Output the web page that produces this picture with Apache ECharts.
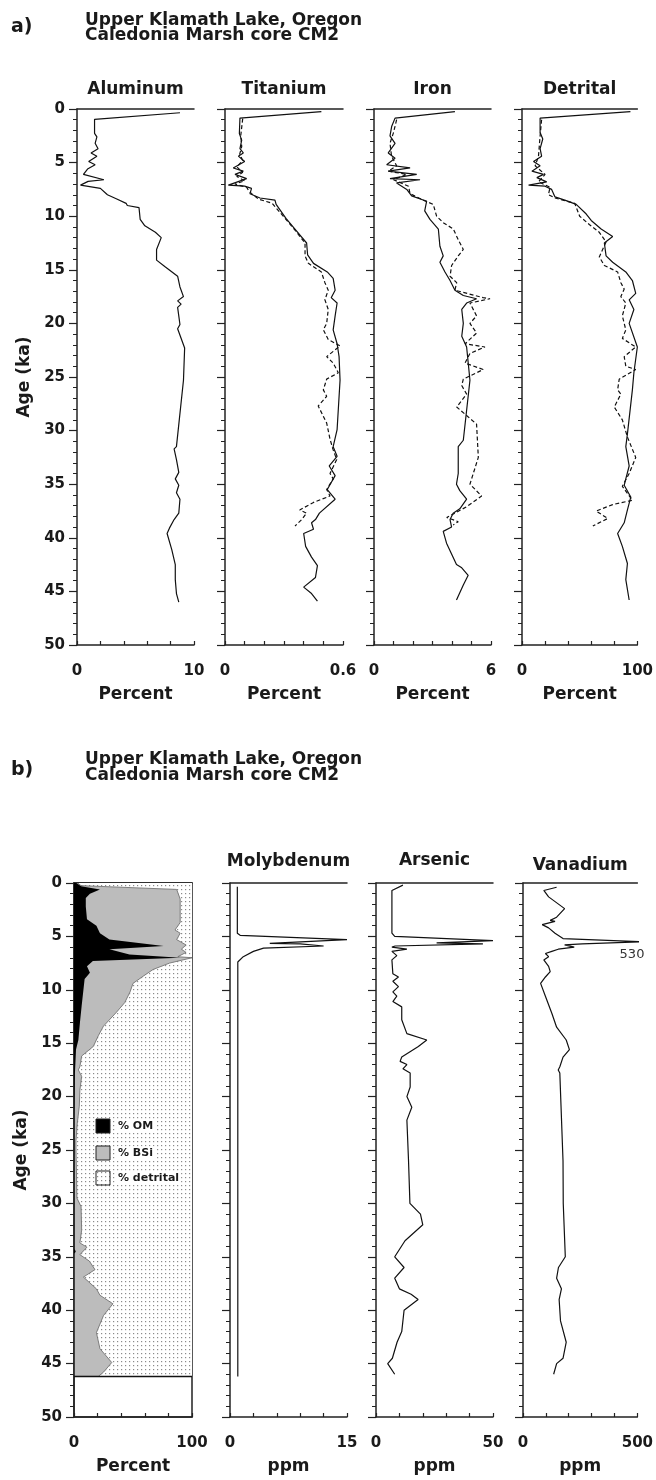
<!DOCTYPE html>
<html><head><meta charset="utf-8">
<script src="https://cdn.jsdelivr.net/npm/echarts@6/dist/echarts.min.js"></script>
<style>html,body{margin:0;padding:0;background:#fff}#c{width:656px;height:1480px}</style>
</head><body><div id="c"></div>
<script>
// ---------- DATA: [age (ka), value] ----------
const aluminum = [[0.35,8.8],[0.96,1.5],[2.27,1.5],[2.6,1.7],[3.2,1.55],[3.7,1.8],[4.1,1.2],[4.4,1.7],[4.9,1.0],[5.2,1.55],[5.6,0.9],[6.1,0.55],[6.6,2.3],[6.75,0.95],[7.1,0.3],[7.4,2.0],[8.0,2.6],[8.4,3.4],[8.8,4.2],[9.0,4.3],[9.2,5.3],[10.3,5.4],[10.9,5.8],[11.5,6.7],[12.0,7.2],[13.1,6.8],[14.1,6.8],[14.7,7.5],[15.6,8.6],[16.6,8.8],[17.5,9.1],[17.9,8.6],[18.2,8.9],[18.5,8.6],[20.1,8.8],[20.5,8.6],[22.3,9.2],[25.3,9.1],[31.5,8.5],[31.7,8.3],[32.7,8.5],[33.9,8.7],[34.5,8.4],[35.1,8.7],[35.8,8.5],[36.4,8.8],[37.7,8.7],[38.3,8.3],[39.1,7.9],[39.6,7.7],[41.1,8.1],[42.5,8.4],[43.9,8.4],[45.2,8.5],[46.0,8.7]];
const titaniumSolid = [[0.25,0.49],[0.85,0.076],[2.3,0.073],[2.9,0.085],[3.7,0.076],[4.1,0.093],[4.4,0.068],[4.9,0.10],[5.5,0.042],[5.8,0.093],[6.1,0.051],[6.5,0.11],[7.1,0.017],[7.2,0.10],[7.4,0.135],[7.9,0.127],[8.3,0.178],[8.5,0.254],[8.9,0.26],[10.2,0.31],[11.3,0.36],[12.5,0.415],[13.6,0.42],[14.4,0.45],[15.2,0.52],[15.8,0.55],[16.9,0.56],[17.6,0.54],[18.1,0.57],[19.3,0.56],[20.6,0.55],[21.9,0.57],[23.1,0.58],[25.3,0.585],[29.9,0.57],[31.5,0.55],[32.4,0.57],[33.3,0.53],[34.2,0.56],[35.5,0.52],[36.4,0.56],[37.7,0.48],[38.3,0.46],[38.6,0.44],[39.2,0.45],[39.6,0.40],[40.8,0.41],[41.8,0.44],[42.6,0.47],[43.7,0.46],[44.6,0.40],[45.2,0.44],[45.9,0.47]];
const titaniumDashed = [[0.9,0.09],[2.5,0.08],[3.5,0.085],[4.2,0.075],[4.8,0.09],[5.4,0.06],[5.9,0.09],[6.3,0.06],[6.7,0.10],[7.0,0.05],[7.3,0.11],[7.6,0.12],[7.9,0.135],[8.4,0.17],[8.8,0.24],[10.0,0.296],[11.3,0.356],[12.5,0.407],[13.7,0.407],[14.4,0.424],[15.2,0.49],[16.2,0.508],[16.9,0.525],[17.8,0.508],[18.7,0.525],[20.0,0.517],[20.6,0.5],[21.5,0.525],[22.1,0.585],[23.1,0.517],[23.7,0.55],[24.6,0.576],[25.2,0.517],[26.2,0.5],[26.8,0.517],[27.7,0.474],[29.3,0.517],[30.8,0.534],[31.8,0.55],[32.7,0.568],[34.0,0.534],[34.5,0.55],[35.5,0.517],[36.1,0.534],[36.7,0.45],[37.4,0.38],[37.7,0.415],[38.3,0.39],[38.9,0.356]];
const ironSolid = [[0.25,4.15],[0.85,1.08],[1.6,0.91],[2.5,0.82],[3.2,1.08],[4.1,0.73],[4.6,1.08],[5.2,0.65],[5.5,1.85],[5.8,0.73],[6.1,2.19],[6.5,0.82],[6.6,2.36],[6.9,1.16],[7.5,1.68],[8.1,1.93],[8.6,2.7],[9.5,2.6],[10.3,2.87],[11.2,3.3],[12.8,3.38],[13.7,3.55],[14.3,3.38],[15.2,3.64],[16.0,3.9],[16.9,4.15],[17.4,4.58],[17.7,5.26],[18.1,4.75],[18.7,4.5],[20.0,4.58],[21.2,4.5],[22.2,4.75],[25.3,4.92],[30.9,4.58],[31.5,4.32],[34.0,4.32],[35.0,4.23],[35.6,4.4],[36.4,4.75],[37.3,4.4],[37.7,4.06],[38.3,3.9],[39.0,3.98],[39.4,3.55],[40.5,3.72],[42.5,4.23],[42.8,4.5],[43.5,4.83],[44.4,4.58],[45.8,4.23]];
const ironDashed = [[1.0,1.16],[2.2,1.0],[3.2,0.82],[4.4,0.9],[5.3,1.16],[5.8,0.73],[6.1,1.68],[6.6,1.0],[7.2,1.77],[7.9,1.85],[8.5,2.53],[8.9,3.04],[10.0,3.21],[10.6,3.55],[11.2,4.07],[12.2,4.32],[13.1,4.58],[13.7,4.32],[14.6,3.98],[15.6,3.9],[16.2,4.24],[16.9,4.15],[17.6,5.6],[17.7,5.95],[18.1,4.92],[19.3,5.26],[20.0,4.92],[20.9,5.26],[21.9,4.67],[22.2,5.69],[22.8,4.92],[23.7,4.67],[24.3,5.6],[25.2,4.58],[25.8,4.5],[26.6,4.75],[27.8,4.24],[29.4,5.26],[32.5,5.35],[35.0,4.92],[36.1,5.52],[37.1,4.75],[37.7,4.15],[38.1,3.73],[38.5,4.32],[38.8,4.06]];
const detritalSolid = [[0.25,94],[0.85,15.7],[2.2,15.7],[2.8,18],[3.7,15.7],[4.4,17],[4.9,10],[5.3,15.7],[5.8,8.6],[6.1,18.6],[6.4,12.9],[6.8,21.4],[7.1,5.7],[7.2,20],[7.5,25.7],[8.2,28.6],[8.5,37.1],[8.9,47],[9.8,55.7],[10.4,60],[11.2,68.6],[11.9,78.6],[12.5,71.4],[13.7,72.9],[14.3,78.6],[15.2,90],[16.0,95.7],[17.2,98.6],[17.8,92.9],[18.7,97],[20.0,92.9],[22.2,100],[24.6,97],[26.2,95.7],[30.3,91.4],[31.5,90],[33.3,92.9],[34.5,90],[35.1,88.6],[36.2,94.3],[37.4,91.4],[38.6,88.6],[39.6,82.9],[40.8,87],[42.4,91.4],[43.9,90],[45.8,92.9]];
const detritalDashed = [[1.0,17],[2.5,15.7],[4.4,14.3],[5.3,11.4],[6.1,20],[6.8,14.3],[7.3,24.3],[8.0,22.9],[8.3,28.6],[8.8,45.7],[10.0,50],[10.8,58.6],[11.5,67],[12.4,72.9],[13.8,67],[14.6,71.4],[15.2,82.9],[16.2,85.7],[16.8,88.6],[17.5,85.7],[18.1,90],[19.3,87],[20.6,90],[21.4,87],[22.2,98.6],[23.1,88.6],[24.0,90],[24.3,98.6],[25.2,84.3],[26.2,82.9],[26.6,85.7],[27.8,80],[29.0,87],[30.6,91.4],[32.5,98.6],[34.0,92.9],[35.2,87],[36.5,95.7],[36.9,78.6],[37.5,64.3],[38.2,74.3],[38.9,61.4]];
// panel b: % OM and the OM+BSi boundary (remainder is % detrital)
const omPct = [[0,2],[0.3,6],[0.6,22],[1.0,13.5],[1.4,10],[2.2,10],[3.4,11],[4.0,19],[4.7,22],[5.3,30],[5.9,76],[6.2,30],[6.7,47],[7.0,90],[7.3,16],[7.8,11],[8.4,13.5],[9.0,9],[10.0,8],[11.5,6.5],[13.1,5],[14.7,3.7],[15.6,1.7],[17.8,0.8],[22,0.6],[34.3,0.6],[34.5,1.5],[34.7,0.5],[46.2,0.5]];
const omPlusBsi = [[0,3],[0.25,6],[0.6,87],[1.5,90],[3.7,90],[4.4,85.6],[4.7,90],[5.3,87],[5.8,95],[6.2,91],[6.5,95],[6.9,88],[7.0,100],[7.5,81],[8.1,67],[8.7,59],[9.4,50],[10.2,47.5],[11.2,43],[12.1,36],[13.4,25],[14.3,20.6],[15.3,16.4],[16.2,6.5],[17.2,5],[17.5,3.7],[18.1,6.5],[19.4,5],[20.9,4.5],[22.5,2.8],[24.1,1.7],[25,1.7],[29.5,2.5],[30.3,6],[32.5,6.5],[33.7,5],[34.1,11],[34.8,5],[35.4,13],[36.2,17.8],[36.9,8],[37.3,12],[38.0,19],[38.6,22],[39.4,33],[40.5,25],[42.1,19],[43.6,22],[44.9,32],[45.8,25],[46.2,20.6]];
const molybdenum = [[0.34,0.94],[4.7,0.94],[4.9,1.3],[5.3,15],[5.65,5.1],[5.7,9.0],[5.9,12],[6.1,4.3],[6.4,3.0],[6.9,1.7],[7.4,1.0],[46.2,1.0]];
const arsenic = [[0.2,11.5],[0.7,6.8],[4.7,6.8],[5.0,8],[5.4,50],[5.6,25.9],[5.7,45.7],[5.9,8.2],[6.0,6.8],[6.2,13.2],[6.4,6.8],[6.8,8.9],[7.2,6.8],[8.5,7.2],[8.8,9.6],[9.2,7.2],[9.7,9.6],[10.2,7.2],[10.6,8.9],[11.1,7.2],[11.6,11],[12.8,11],[14.1,13.2],[14.7,21.7],[15.3,18.1],[16.3,11],[16.7,10.3],[17.0,13.2],[17.4,11.5],[17.8,14.6],[19.1,14.6],[20.0,13.2],[21.0,15.3],[22.2,13.2],[26.0,13.9],[30.0,14.5],[31.0,19],[32.0,20],[33.5,12.4],[35.0,8],[36.0,12],[37.0,8],[38.0,10],[38.5,15],[39.0,18],[40.0,12],[42.0,11],[43.0,9],[44.5,7],[45.0,5],[46.0,8]];
const vanadiumPeak = 530;
const vanadium = [[0.4,147],[0.7,91],[1.3,112],[2.4,182],[3.2,147],[3.5,119],[3.6,140],[3.9,84],[4.2,112],[4.7,140],[5.2,175],[5.5,vanadiumPeak],[5.7,259],[5.8,182],[6.0,224],[6.2,154],[6.4,126],[6.6,98],[6.9,112],[7.2,91],[7.8,112],[8.3,119],[8.8,98],[9.4,77],[10.6,98],[12.2,126],[13.5,147],[14.7,189],[15.6,203],[16.3,175],[17.2,161],[17.5,154],[17.8,161],[26.0,175],[30,176],[35,185],[36,155],[37,147],[38,168],[39,158],[41,164],[43,189],[44.5,175],[45,147],[46,134]];

const panelTitles = ['Aluminum','Titanium','Iron','Detrital','','Molybdenum','Arsenic','Vanadium'];
const axisMax = [10, 0.6, 6, 100, 100, 15, 50, 500];
const axisStep = [2, 0.1, 1, 20, 20, 3, 10, 100];
const axisUnits = ['Percent','Percent','Percent','Percent','Percent','ppm','ppm','ppm'];
const legendLabels = ['% OM','% BSi','% detrital'];
const headerLines = ['Upper Klamath Lake, Oregon','Caledonia Marsh core CM2'];

// ---------- LAYOUT ----------
const grids = [
  {left:77, top:109, width:117, height:536},
  {left:225, top:109, width:118, height:536},
  {left:374, top:109, width:117, height:536},
  {left:522, top:109, width:116, height:536},
  {left:74, top:883, width:118, height:534, show:true, borderColor:'#222', borderWidth:1.5},
  {left:230, top:883, width:117, height:534},
  {left:376, top:883, width:117, height:534},
  {left:523, top:883, width:119, height:534}
];
const titleGap = [11,11,11,11,0,13,14,9];
const FONT = 'DejaVu Sans';
const INK = '#1a1a1a';
const lineAx = {color:'#222', width:1.5};

const pc = document.createElement('canvas'); pc.width = 4; pc.height = 4;
const pg = pc.getContext('2d'); pg.fillStyle = '#fff'; pg.fillRect(0,0,4,4);
pg.fillStyle = '#8a8a8a'; pg.fillRect(1,1,1.2,1.2);
const dotPattern = {image: pc, repeat: 'repeat'};

const xAxes = [], yAxes = [];
grids.forEach((g, i) => {
  const mx = axisMax[i];
  xAxes.push({
    type:'value', gridIndex:i, min:0, max:mx, interval:axisStep[i], position:'bottom',
    axisLine:{show:true, onZero:false, lineStyle:lineAx},
    axisTick:{show:true, inside:true, length:4, lineStyle:{color:'#222', width:1.2}},
    splitLine:{show:false},
    axisLabel:{fontFamily:FONT, fontWeight:'bold', fontSize:15, color:INK, margin:19,
      formatter: v => (Math.abs(v) < 1e-9 ? '0' : (Math.abs(v - mx) < 1e-9 ? String(mx) : ''))},
    name: axisUnits[i], nameLocation:'middle', nameGap:41,
    nameTextStyle:{fontFamily:FONT, fontWeight:'bold', fontSize:17, color:INK}
  });
  const isFirst = (i === 0 || i === 4);
  yAxes.push({
    type:'value', gridIndex:i, inverse:true, min:0, max:50, interval:5,
    axisLine:{show:true, onZero:false, lineStyle:lineAx},
    axisTick:{show:true, length:8, lineStyle:{color:'#222', width:1.2}},
    minorTick:{show:true, splitNumber:5, length:4, lineStyle:{color:'#222', width:1}},
    splitLine:{show:false}, minorSplitLine:{show:false},
    axisLabel:{show:isFirst, fontFamily:FONT, fontWeight:'bold', fontSize:15, color:INK, margin:12},
    name: isFirst ? 'Age (ka)' : '', nameLocation:'middle', nameGap:44,
    nameTextStyle:{fontFamily:FONT, fontWeight:'bold', fontSize:17, color:INK}
  });
});
grids.forEach((g, i) => {
  xAxes.push({
    type:'value', gridIndex:i, min:0, max:axisMax[i], position:'top',
    axisLine:{show:true, onZero:false, lineStyle:lineAx},
    axisTick:{show:false}, axisLabel:{show:false}, splitLine:{show:false},
    name: panelTitles[i], nameLocation:'middle', nameGap:titleGap[i],
    nameTextStyle:{fontFamily:FONT, fontWeight:'bold', fontSize:17, color:INK}
  });
});

function lineSeries(idx, pairs, dashed) {
  return {
    type:'line', xAxisIndex:idx, yAxisIndex:idx, showSymbol:false, symbol:'none',
    clip:true, silent:true, animation:false,
    lineStyle:{color:'#111', width:1.2, type: dashed ? [4,2.5] : 'solid'},
    data: pairs.map(d => [d[1], d[0]])
  };
}

function renderStack(params, api) {
  const pt = (v, a) => api.coord([v, a]);
  const first = omPlusBsi[0][0], last = omPlusBsi[omPlusBsi.length - 1][0];
  const edge = omPlusBsi.map(d => pt(d[1], d[0]));
  const om = omPct.map(d => pt(d[1], d[0]));
  const detritalPoly = edge.concat([pt(100, last), pt(100, first)]);
  const bsiPoly = [pt(0, first)].concat(edge, [pt(0, last)]);
  const omPoly = [pt(0, omPct[0][0])].concat(om, [pt(0, omPct[omPct.length - 1][0])]);
  const l0 = pt(0, last), l1 = pt(100, last);
  return {type:'group', children:[
    {type:'polygon', shape:{points:detritalPoly}, style:{fill:dotPattern}},
    {type:'polygon', shape:{points:bsiPoly}, style:{fill:'#bcbcbc', stroke:'#666', lineWidth:0.8}},
    {type:'polygon', shape:{points:omPoly}, style:{fill:'#000'}},
    {type:'line', shape:{x1:l0[0], y1:l0[1], x2:l1[0], y2:l1[1]}, style:{stroke:'#111', lineWidth:1.5}}
  ]};
}

const series = [
  lineSeries(0, aluminum, false),
  lineSeries(1, titaniumSolid, false), lineSeries(1, titaniumDashed, true),
  lineSeries(2, ironSolid, false), lineSeries(2, ironDashed, true),
  lineSeries(3, detritalSolid, false), lineSeries(3, detritalDashed, true),
  {type:'custom', xAxisIndex:4, yAxisIndex:4, clip:true, silent:true, renderItem:renderStack,
   data:[[0,0]], encode:{x:0, y:1}, z:1},
  lineSeries(5, molybdenum, false),
  lineSeries(6, arsenic, false),
  lineSeries(7, vanadium, false)
];

const hdr = (txt, x, y, size) => ({type:'text', x:x, y:y, silent:true,
  style:{text:txt, font:'bold ' + size + 'px "' + FONT + '"', fill:INK, textVerticalAlign:'middle'}});

const legendY = [1126, 1153, 1178];
const legendFills = ['#000', '#bcbcbc', dotPattern];
const graphic = [
  hdr('a)', 11, 27, 19), hdr(headerLines[0], 85, 21, 17), hdr(headerLines[1], 85, 36, 17),
  hdr('b)', 11, 770, 19), hdr(headerLines[0], 85, 760, 17), hdr(headerLines[1], 85, 776, 17),
  {type:'text', x:632, y:955, silent:true, style:{text:String(vanadiumPeak), font:'13px "' + FONT + '"', fill:'#333', textAlign:'center', textVerticalAlign:'middle'}, z:10}
];
legendLabels.forEach((lab, k) => {
  graphic.push({type:'rect', x:96, y:legendY[k] - 7, shape:{width:14, height:14}, silent:true, z:10,
    style:{fill:legendFills[k], stroke:'#222', lineWidth:1}});
  graphic.push({type:'text', x:116, y:legendY[k], silent:true, z:10,
    style:{text:lab, font:'bold 11px "' + FONT + '"', fill:INK, textVerticalAlign:'middle',
      backgroundColor:'#fff', padding:[1,2]}});
});

const chart = echarts.init(document.getElementById('c'), null, {renderer:'canvas'});
chart.setOption({
  animation:false, backgroundColor:'#fff',
  grid: grids, xAxis: xAxes, yAxis: yAxes, series: series, graphic: graphic
});
</script></body></html>
